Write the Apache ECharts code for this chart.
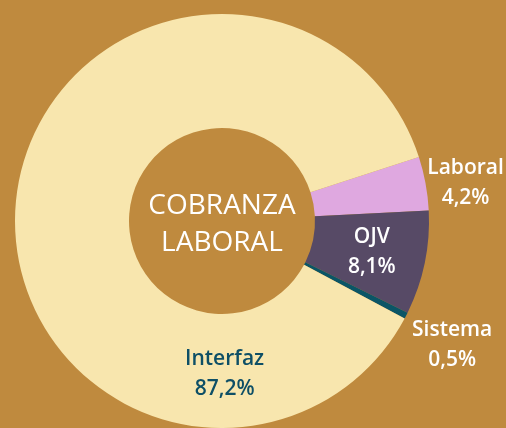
<!DOCTYPE html>
<html>
<head>
<meta charset="utf-8">
<script src="https://cdn.jsdelivr.net/npm/echarts@6/dist/echarts.min.js"></script>
<style>
  html, body { margin: 0; padding: 0; background: #bf8a3e; }
  #chart { width: 506px; height: 428px; }
</style>
</head>
<body>
<div id="chart"></div>
<script>
var categories = ['Laboral', 'OJV', 'Sistema', 'Interfaz'];
var shares = [4.2, 8.1, 0.5, 87.2];
var colors = ['#dfa8e0', '#574a66', '#0b5566', '#f8e6ae'];
var centerTitle = 'COBRANZA\nLABORAL';

var FONT = '"Open Sans", "Noto Sans", sans-serif';

function pct(v) {
    return String(v).replace('.', ',') + '%';
}

// per-slice label placement
var labelCfg = [
    { position: 'outside', color: '#fff', offset: [-6, 0] },
    { position: 'inside', color: '#fff' },
    { position: 'outside', color: '#fff', offset: [0, 29] },
    { position: 'inside', color: '#0e4f66', offset: [155, 166] }
];

var data = categories.map(function (name, i) {
    return {
        name: name,
        value: shares[i],
        itemStyle: { color: colors[i] },
        label: labelCfg[i]
    };
});

var myChart = echarts.init(document.getElementById('chart'));
myChart.setOption({
    backgroundColor: '#bf8a3e',
    animation: false,
    series: [{
        type: 'pie',
        center: [222, 221],
        radius: [93, 207],
        startAngle: 18,
        clockwise: true,
        avoidLabelOverlap: false,
        label: {
            formatter: function (p) {
                return '{t|' + p.name + '}\n{t|' + pct(p.value) + '}';
            },
            rich: {
                t: {
                    width: 82,
                    align: 'center',
                    fontFamily: FONT,
                    fontSize: 21,
                    fontWeight: 600,
                    lineHeight: 30
                }
            }
        },
        labelLine: { show: false, length: 0, length2: 0 },
        emphasis: { disabled: true },
        data: data
    }],
    graphic: [{
        type: 'text',
        x: 222,
        y: 225,
        z: 100,
        style: {
            text: centerTitle,
            fill: '#fff',
            font: '500 28px ' + FONT,
            lineHeight: 37,
            align: 'center',
            verticalAlign: 'middle'
        }
    }]
});
</script>
</body>
</html>
